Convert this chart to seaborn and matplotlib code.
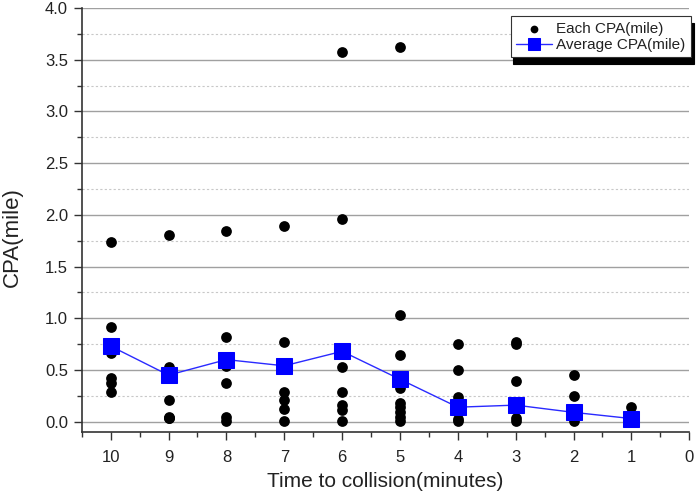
import numpy as np
import pandas as pd
import matplotlib
matplotlib.use("Agg")
import matplotlib.pyplot as plt
from matplotlib.ticker import MultipleLocator, FormatStrFormatter
import seaborn as sns

# Each CPA value, per time-to-collision (minutes)
cpa_10 = [1.74, 0.92, 0.66, 0.42, 0.37, 0.29]
cpa_9 = [1.80, 0.53, 0.21, 0.05, 0.04, 0.04]
cpa_8 = [1.84, 0.82, 0.54, 0.37, 0.05, 0.01]
cpa_7 = [1.89, 0.77, 0.29, 0.21, 0.12, 0.01]
cpa_6 = [3.57, 1.96, 0.53, 0.29, 0.16, 0.11, 0.01]
cpa_5 = [3.62, 1.03, 0.64, 0.36, 0.33, 0.18, 0.14, 0.09, 0.05, 0.01]
cpa_4 = [0.75, 0.50, 0.24, 0.03, 0.01]
cpa_3 = [0.77, 0.75, 0.39, 0.04, 0.01]
cpa_2 = [0.45, 0.25, 0.08, 0.01]
cpa_1 = [0.14, 0.03, 0.01]

times = [10, 9, 8, 7, 6, 5, 4, 3, 2, 1]
avg_cpa = [0.73, 0.45, 0.60, 0.54, 0.68, 0.41, 0.14, 0.16, 0.09, 0.03]

groups = [cpa_10, cpa_9, cpa_8, cpa_7, cpa_6, cpa_5, cpa_4, cpa_3, cpa_2, cpa_1]
points = pd.DataFrame({
    "time": np.concatenate([[t] * len(g) for t, g in zip(times, groups)]),
    "cpa": np.concatenate(groups),
})
avg = pd.DataFrame({"time": times, "cpa": avg_cpa})

sns.set_style("white")
plt.rcParams["font.family"] = ["Liberation Sans", "DejaVu Sans"]

fig = plt.figure(figsize=(6.99, 4.96), dpi=100)
ax = fig.add_axes([0.117, 0.129, 0.869, 0.855])

sns.scatterplot(data=points, x="time", y="cpa", ax=ax, color="black", s=60,
                edgecolor="black", linewidth=0, label="Each CPA(mile)", zorder=3)
sns.lineplot(data=avg, x="time", y="cpa", ax=ax, color="#2a2aff", lw=1,
             marker="s", markersize=12, markerfacecolor="#0000ff",
             markeredgecolor="#0000ff", label="Average CPA(mile)", zorder=4)

ax.set_xlim(10.5, 0)
ax.set_ylim(-0.1, 4.0)
ax.xaxis.set_major_locator(MultipleLocator(1))
ax.xaxis.set_minor_locator(MultipleLocator(0.5))
ax.yaxis.set_major_locator(MultipleLocator(0.5))
ax.yaxis.set_minor_locator(MultipleLocator(0.25))
ax.yaxis.set_major_formatter(FormatStrFormatter("%.1f"))

# solid grey major lines, dotted light minor lines
ax.grid(axis="y", which="major", color="#a0a0a0", lw=1.0, ls="-", zorder=0)
ax.grid(axis="y", which="minor", color="#c8c8c8", lw=0.8, ls=(0, (2, 2)), zorder=0)
ax.grid(axis="x", visible=False)

for side in ["top", "right"]:
    ax.spines[side].set_visible(False)
for side in ["left", "bottom"]:
    ax.spines[side].set_color("#333333")
    ax.spines[side].set_linewidth(1.2)

ax.tick_params(which="major", direction="out", length=6, width=1, color="#333333",
               labelsize=12, labelcolor="#222222", left=True, bottom=True)
ax.tick_params(which="minor", direction="out", length=3.5, width=1, color="#333333",
               left=True, bottom=True)
ax.tick_params(axis="x", pad=7)
ax.tick_params(axis="y", pad=4)

ax.set_xlabel("Time to collision(minutes)", fontsize=15, labelpad=5, color="#222222")
ax.set_ylabel("CPA(mile)", fontsize=16, color="#222222")
ax.yaxis.set_label_coords(-0.097, 0.46)

leg = ax.legend(loc="upper right", bbox_to_anchor=(1.003, 0.98), borderaxespad=0,
                fontsize=11, frameon=True,
                shadow={"color": "black", "alpha": 1, "ox": 2, "oy": -5},
                fancybox=False, borderpad=0.35, handlelength=2.35,
                handletextpad=0.3, labelspacing=0.15, markerscale=0.72)
leg.get_frame().set_edgecolor("#333333")
leg.get_frame().set_linewidth(0.8)
for t in leg.get_texts():
    t.set_color("#222222")

fig.savefig("out.png", dpi=100)
